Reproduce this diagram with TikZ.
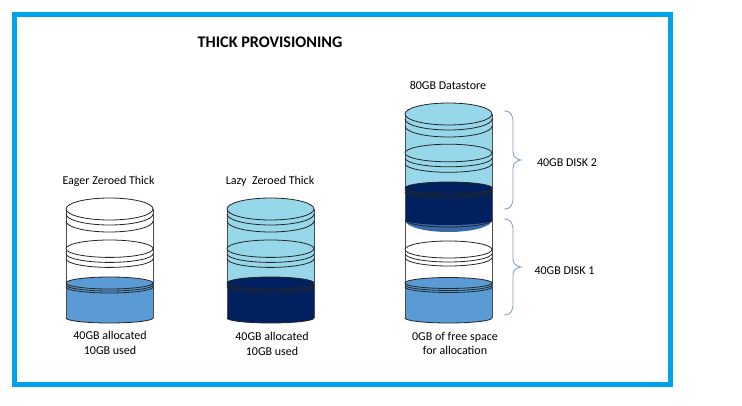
\documentclass[tikz,border=0pt]{standalone}
\usepackage{fontspec}
\setmainfont{Carlito}
\definecolor{frameblue}{HTML}{00A2E8}
\definecolor{lightb}{HTML}{97D7EA}
\definecolor{midb}{HTML}{5B9BD5}
\definecolor{navy}{HTML}{002060}
\definecolor{bracec}{HTML}{7F9DBD}
\tikzset{
  lbl/.style={font=\fontsize{12}{14.5}\selectfont,align=center,inner sep=0pt,text=black},
  ttl/.style={font=\fontsize{16.2}{19}\selectfont\bfseries,inner sep=0pt,text=black},
  rim/.style={draw=black!85,line width=0.8pt},
  wall/.style={draw=black!70,line width=1pt}, 
  bracel/.style={draw=bracec,line width=0.8pt}
}
% cx, ytop(centre), ybottom(centre), colour : body with a round bottom
\newcommand\canbody[4]{%
  \fill[#4] (#1-43.5,#2) -- (#1-43.5,#3)
    arc[start angle=180,end angle=360,x radius=43.5pt,y radius=5pt] -- (#1+43.5,#2) -- cycle;}
% cx, y, ry, fill, gap1, gap2 : ellipse with two rims below it
\newcommand\platter[6]{%
  \filldraw[rim,fill=#4] (#1,#2) ellipse[x radius=43.5pt,y radius=#3pt];
  \draw[rim] (#1-43.5,#2+#5) arc[start angle=180,end angle=360,x radius=43.5pt,y radius=#3pt];
  \draw[rim] (#1-43.5,#2+#6) arc[start angle=180,end angle=360,x radius=43.5pt,y radius=#3pt];}
\newcommand\walls[3]{%
  \draw[wall] (#1-43.5,#2) -- (#1-43.5,#3);
  \draw[wall] (#1+43.5,#2) -- (#1+43.5,#3);}
\newcommand\bottomrim[2]{%
  \draw[rim] (#1-43.5,#2) arc[start angle=180,end angle=360,x radius=43.5pt,y radius=5pt];}
\newcommand\bracket[3]{% x, ytop, ybottom
  \draw[bracel] (#1,#2) .. controls (#1+7,#2) and (#1+9,#2+4) .. (#1+9,#2+12)
    -- (#1+9,{(#2+#3)/2-8}) .. controls (#1+9,{(#2+#3)/2-3}) and (#1+12,{(#2+#3)/2-1}) .. (#1+17,{(#2+#3)/2})
    .. controls (#1+12,{(#2+#3)/2+1}) and (#1+9,{(#2+#3)/2+3}) .. (#1+9,{(#2+#3)/2+8})
    -- (#1+9,#3-12) .. controls (#1+9,#3-4) and (#1+7,#3) .. (#1,#3);}
\begin{document}
\begin{tikzpicture}[x=1pt,y=-1pt]
\useasboundingbox (0,0) rectangle (742,406);
\fill[white] (0,0) rectangle (742,406);
\draw[frameblue,line width=5pt] (14.5,14.5) rectangle (670.5,384.5);
\node[ttl,anchor=center] (title) at (270,42) {THICK PROVISIONING};

% Eager
\node[lbl] (eager) at (108.5,181) {Eager Zeroed Thick};
\canbody{109.5}{283}{318}{midb}
\walls{109.5}{209}{318}
\platter{109.5}{209}{11}{white}{5}{12}
\platter{109.5}{248.7}{8.7}{white}{5}{10}
\platter{109.5}{283}{6}{midb}{2}{4}
\bottomrim{109.5}{318}
\node[lbl] (ealloc) at (110,343) {40GB allocated\\10GB used};

% Lazy
\node[lbl] (lazy) at (270,181) {Lazy\ \ Zeroed Thick};
\canbody{270.5}{209}{283}{lightb}
\canbody{270.5}{283}{318}{navy}
\walls{270.5}{209}{318}
\platter{270.5}{209}{11}{lightb}{5}{12}
\platter{270.5}{248.7}{8.7}{lightb}{5}{10}
\platter{270.5}{283}{6}{navy}{2}{4}
\bottomrim{270.5}{318}
\node[lbl] (lalloc) at (272,344) {40GB allocated\\10GB used};

% Datastore
\node[lbl] (ds) at (448,85) {80GB Datastore};
\canbody{448.5}{114}{188}{lightb}
\fill[midb!60!navy] (405,220) arc[start angle=180,end angle=360,x radius=43.5pt,y radius=12pt] -- cycle;
\canbody{448.5}{188}{220}{navy}
\canbody{448.5}{283}{318}{midb}
\walls{448.5}{114}{318}
\platter{448.5}{114}{11}{lightb}{5}{12}
\platter{448.5}{153}{8.8}{lightb}{5}{10.5}
\platter{448.5}{188}{6}{navy}{2}{4}
\draw[rim] (405,220) arc[start angle=180,end angle=360,x radius=43.5pt,y radius=7pt];
\platter{448.5}{249.5}{8.5}{white}{4}{8}
\platter{448.5}{283}{5.5}{midb}{2}{4}
\bottomrim{448.5}{318}
\node[lbl] (dalloc) at (455,343.5) {0GB of free space\\for allocation};

% Braces and their labels
\bracket{504}{111}{209}
\node[lbl] (d2) at (567,163) {40GB DISK 2};
\bracket{504}{219}{315}
\node[lbl] (d1) at (564.5,271) {40GB DISK 1};
\end{tikzpicture}
\end{document}
